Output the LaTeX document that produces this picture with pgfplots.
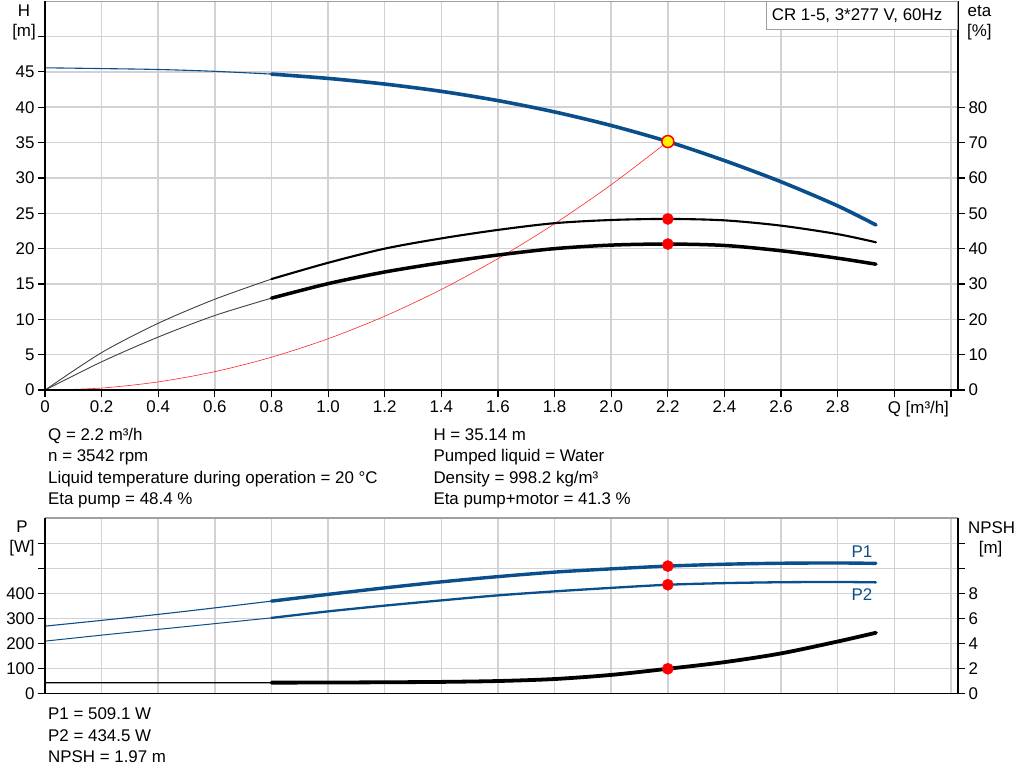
\documentclass[border=0pt]{standalone}
\usepackage{fontspec}
\setmainfont{Liberation Sans}
\usepackage{pgfplots}
\pgfplotsset{compat=1.18}
\definecolor{pblue}{RGB}{10,79,139}
\definecolor{gridc}{RGB}{210,210,214}
\definecolor{framec}{RGB}{160,160,160}
\newcommand{\fs}{\fontsize{16.9}{19}\selectfont}
\begin{document}
\begin{tikzpicture}[x=1pt,y=1pt]
\path (0,0) rectangle (1024,781);
\pgfplotsset{
  base/.style={
    scale only axis, width=913pt, xmin=0, xmax=3.225,
    axis line style={draw=none},
    tick align=outside, major tick length=7pt,
    tick style={black, line width=1.2pt},
    ticklabel style={font=\fs, text=black},
    /pgf/number format/assume math mode=true,
    xtick={0,0.2,0.4,0.6,0.8,1.0,1.2,1.4,1.6,1.8,2.0,2.2,2.4,2.6,2.8,3.0,3.2},
    major grid style={gridc, line width=1.5pt},
  },
}
% ================= TOP CHART (H) =================
\begin{axis}[base, at={(45pt,392pt)}, anchor=south west, height=389pt,
  ymin=0, ymax=55,
  xticklabels={0,0.2,0.4,0.6,0.8,1.0,1.2,1.4,1.6,1.8,2.0,2.2,2.4,2.6,2.8,{},{}},
  ytick={0,5,10,15,20,25,30,35,40,45,50},
  yticklabels={0,5,10,15,20,25,30,35,40,45,{}},
  xtick pos=bottom, ytick pos=left,
  grid=major,
]
% H curve
\addplot[pblue, line width=1.1pt, smooth] coordinates {
 (0,45.57) (0.2,45.46) (0.4,45.33) (0.6,45.07) (0.8,44.68)};
\addplot[pblue, line width=3.6pt, smooth, line cap=round] coordinates {
 (0.8,44.68) (1.0,44.07) (1.2,43.27) (1.4,42.24) (1.6,40.93) (1.8,39.33)
 (2.0,37.41) (2.2,35.14) (2.4,32.45) (2.6,29.45) (2.8,26.05) (2.935,23.35)};
% system curve
\addplot[red!85!white, line width=0.6pt, smooth] coordinates {
 (0,0) (0.2,0.29) (0.4,1.16) (0.6,2.61) (0.8,4.65) (1.0,7.26) (1.2,10.45)
 (1.4,14.23) (1.6,18.59) (1.8,23.52) (2.0,29.04) (2.2,35.14)};
\addplot[only marks, mark=*, mark size=6pt, mark options={fill=yellow, draw=red, line width=1.5pt}]
 coordinates {(2.2,35.14)};
\end{axis}
% ================= TOP CHART (eta) =================
\begin{axis}[base, at={(45pt,392pt)}, anchor=south west, height=389pt,
  ymin=0, ymax=110, xtick=\empty,
  ytick={0,10,20,30,40,50,60,70,80},
  yticklabels={0,10,20,30,40,50,60,70,80},
  ytick pos=right, yticklabel pos=right,
]
% eta pump
\addplot[black!75, line width=0.9pt, smooth] coordinates {
 (0,0) (0.2,10.6) (0.4,18.9) (0.6,25.7) (0.8,31.4)};
\addplot[black, line width=2.1pt, smooth, line cap=round] coordinates {
 (0.8,31.4) (1.0,36.0) (1.2,40.0) (1.4,42.9) (1.6,45.3) (1.8,47.2) (2.0,48.1)
 (2.2,48.4) (2.4,48.0) (2.6,46.5) (2.8,44.1) (2.935,41.8)};
% eta pump+motor
\addplot[black!75, line width=0.9pt, smooth] coordinates {
 (0,0) (0.2,8.0) (0.4,15.0) (0.6,21.1) (0.8,26.0)};
\addplot[black, line width=3.5pt, smooth, line cap=round] coordinates {
 (0.8,26.0) (1.0,30.1) (1.2,33.4) (1.4,36.0) (1.6,38.2) (1.8,40.0) (2.0,41.0)
 (2.2,41.3) (2.4,40.9) (2.6,39.4) (2.8,37.3) (2.935,35.6)};
\addplot[only marks, mark=*, mark size=5.6pt, red] coordinates {(2.2,48.4) (2.2,41.3)};
\end{axis}
% ================= BOTTOM CHART (P) =================
\begin{axis}[base, at={(45pt,88.7pt)}, anchor=south west, height=175.3pt,
  ymin=0, ymax=701,
  xticklabels={}, xtick style={draw=none},
  ytick={0,100,200,300,400,500,600},
  yticklabels={0,100,200,300,400,{},{}},
  ytick pos=left,
  grid=major,
]
\addplot[pblue, line width=1.1pt, smooth] coordinates {
 (0,269) (0.2,292) (0.4,316) (0.6,342) (0.8,369)};
\addplot[pblue, line width=3.4pt, smooth, line cap=round] coordinates {
 (0.8,369) (1.0,396) (1.2,422) (1.4,446) (1.6,467) (1.8,485) (2.0,498)
 (2.2,509.1) (2.4,516.5) (2.6,520.5) (2.8,521.5) (2.935,520)};
\addplot[pblue, line width=1.0pt, smooth] coordinates {
 (0,209) (0.2,233) (0.4,256) (0.6,279) (0.8,302)};
\addplot[pblue, line width=2.3pt, smooth, line cap=round] coordinates {
 (0.8,302) (1.0,328) (1.2,351) (1.4,372) (1.6,392) (1.8,408) (2.0,422)
 (2.2,434.5) (2.4,441) (2.6,444.5) (2.8,445.5) (2.935,444)};
\addplot[only marks, mark=*, mark size=5.6pt, red] coordinates {(2.2,509.1) (2.2,434.5)};
\end{axis}
% ================= BOTTOM CHART (NPSH) =================
\begin{axis}[base, at={(45pt,88.7pt)}, anchor=south west, height=175.3pt,
  ymin=0, ymax=14.02, xtick=\empty,
  ytick={0,2,4,6,8,10,12},
  yticklabels={0,2,4,6,8,{},{}},
  ytick pos=right, yticklabel pos=right,
]
\addplot[black, line width=1.2pt, smooth] coordinates {
 (0,0.85) (0.4,0.85) (0.8,0.86)};
\addplot[black, line width=3.8pt, smooth, line cap=round] coordinates {
 (0.8,0.86) (1.0,0.87) (1.2,0.89) (1.4,0.92) (1.6,0.99) (1.8,1.15) (2.0,1.48)
 (2.2,1.97) (2.4,2.5) (2.6,3.2) (2.8,4.15) (2.935,4.85)};
\addplot[only marks, mark=*, mark size=5.6pt, red] coordinates {(2.2,1.97)};
\end{axis}
% ================= frames =================
\draw[framec, line width=1.3pt] (45,780.3) -- (958,780.3);
\draw[black, line width=1.6pt] (45,392) -- (958,392);
\draw[black, line width=2pt] (45,392) -- (45,780.9);
\draw[black, line width=2.4pt] (958,392) -- (958,780.9);
\draw[framec, line width=1.3pt] (45,264) -- (958,264);
\draw[black, line width=1.6pt] (45,88.7) -- (958,88.7);
\draw[black, line width=2pt] (45,88.7) -- (45,264);
\draw[black, line width=2.4pt] (958,88.7) -- (958,264);
% title box
\draw[framec, line width=1pt, fill=white] (766,752.7) rectangle (957,780.4);
\node[anchor=base west, inner sep=0, font=\fs] at (771.7,762) {CR 1-5, 3*277 V, 60Hz};
% axis labels
\node[anchor=base, inner sep=0, font=\fs] at (24,766) {H};
\node[anchor=base, inner sep=0, font=\fs] at (24,746) {[m]};
\node[anchor=base west, inner sep=0, font=\fs] at (967.5,766) {eta};
\node[anchor=base west, inner sep=0, font=\fs] at (967,746) {[\%]};
\node[anchor=base west, inner sep=0, font=\fs] at (887.7,369) {Q [m³/h]};
\node[anchor=base, inner sep=0, font=\fs] at (22,249.3) {P};
\node[anchor=base, inner sep=0, font=\fs] at (22,229.3) {[W]};
\node[anchor=base west, inner sep=0, font=\fs] at (968,248.3) {NPSH};
\node[anchor=base west, inner sep=0, font=\fs] at (978.7,229) {[m]};
\node[anchor=base west, inner sep=0, font=\fs, text=pblue] at (851.3,224.3) {P1};
\node[anchor=base west, inner sep=0, font=\fs, text=pblue] at (851.3,181.7) {P2};
% info text
\begin{scope}[every node/.style={anchor=base west, inner sep=0, font=\fs}]
\node at (48,342) {Q = 2.2 m³/h};
\node at (48,320.3) {n = 3542 rpm};
\node at (48,298.7) {Liquid temperature during operation = 20 °C};
\node at (48,277.7) {Eta pump = 48.4 \%};
\node at (433.3,342) {H = 35.14 m};
\node at (433.3,320.3) {Pumped liquid = Water};
\node at (433.3,298.7) {Density = 998.2 kg/m³};
\node at (433.3,277.7) {Eta pump+motor = 41.3 \%};
\node at (48,62.7) {P1 = 509.1 W};
\node at (48,41) {P2 = 434.5 W};
\node at (48,19.3) {NPSH = 1.97 m};
\end{scope}
\end{tikzpicture}
\end{document}
